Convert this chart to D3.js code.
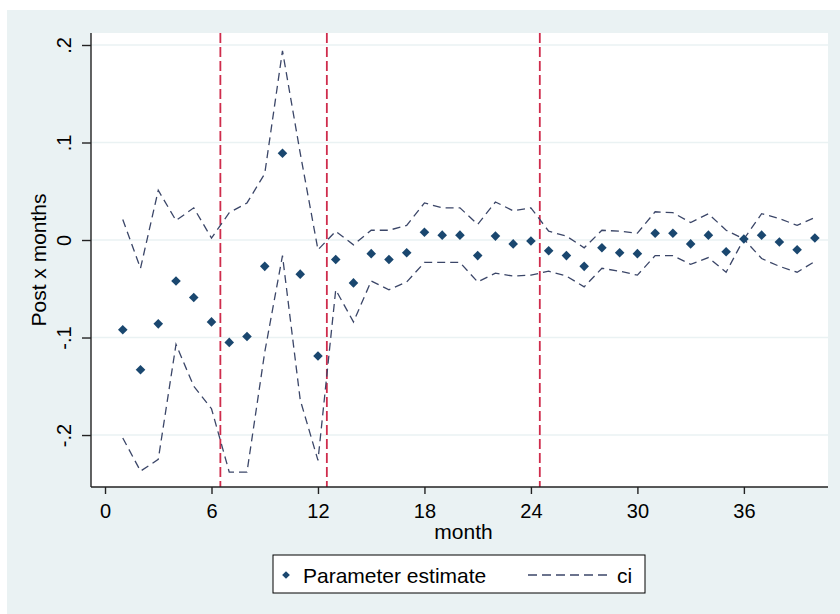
<!DOCTYPE html>
<html>
<head>
<meta charset="utf-8">
<script src="https://cdn.jsdelivr.net/npm/d3@7"></script>
<style>
  body { margin: 0; background: #fff; }
  text { font-family: "Liberation Sans", Arial, sans-serif; fill: #000; }
</style>
</head>
<body>
<div id="chart-area"></div>
<script>
// values
var months = [1,2,3,4,5,6,7,8,9,10,11,12,13,14,15,16,17,18,19,20,
              21,22,23,24,25,26,27,28,29,30,31,32,33,34,35,36,37,38,39,40];

var estimate = [-0.092,-0.133,-0.086,-0.042,-0.059,-0.084,-0.105,-0.099,-0.027,0.089,
                -0.035,-0.119,-0.020,-0.044,-0.014,-0.020,-0.013,0.008,0.005,0.005,
                -0.016,0.004,-0.004,-0.001,-0.011,-0.016,-0.027,-0.008,-0.013,-0.014,
                0.007,0.007,-0.004,0.005,-0.012,0.001,0.005,-0.002,-0.010,0.002];

var ciUpper = [0.021,-0.029,0.051,0.020,0.033,0.002,0.028,0.038,0.068,0.194,
               0.089,-0.010,0.009,-0.005,0.010,0.010,0.015,0.038,0.033,0.033,
               0.016,0.039,0.030,0.033,0.009,0.004,-0.008,0.010,0.009,0.007,
               0.029,0.028,0.018,0.027,0.010,0.001,0.027,0.022,0.015,0.023];

var ciLower = [-0.203,-0.237,-0.225,-0.107,-0.150,-0.173,-0.238,-0.238,-0.115,-0.016,
               -0.164,-0.226,-0.051,-0.084,-0.042,-0.051,-0.043,-0.023,-0.023,-0.023,
               -0.043,-0.034,-0.037,-0.036,-0.032,-0.037,-0.048,-0.029,-0.032,-0.036,
               -0.016,-0.016,-0.025,-0.018,-0.033,0.001,-0.019,-0.027,-0.033,-0.022];

var eventLines = [6.5, 12.5, 24.5];

var xTicks = [0, 6, 12, 18, 24, 30, 36];
var yTicks = [-0.2, -0.1, 0, 0.1, 0.2];
var yTickLabels = ["-.2", "-.1", "0", ".1", ".2"];

var W = 840, H = 614;
var plot = { left: 91, right: 828, top: 33, bottom: 487 };

var svg = d3.select("#chart-area")
    .append("svg")
        .attr("width", W)
        .attr("height", H);

// graph region + plot region
svg.append("rect")
    .attr("x", 7).attr("y", 10)
    .attr("width", W - 7).attr("height", H - 10)
    .attr("fill", "#eaf2f3");

svg.append("rect")
    .attr("x", plot.left).attr("y", plot.top)
    .attr("width", plot.right - plot.left)
    .attr("height", plot.bottom - plot.top)
    .attr("fill", "#fff");

var x = d3.scaleLinear()
    .domain([-0.79, 40.74])
    .range([plot.left, plot.right]);

var y = d3.scaleLinear()
    .domain([-0.2533, 0.2123])
    .range([plot.bottom, plot.top]);

// grid
svg.append("g")
    .selectAll("line")
    .data(yTicks)
    .enter()
    .append("line")
        .attr("x1", plot.left).attr("x2", plot.right)
        .attr("y1", function(d){ return y(d); })
        .attr("y2", function(d){ return y(d); })
        .attr("stroke", "#eaf2f3")
        .attr("stroke-width", 1.5);

// event lines
svg.append("g")
    .selectAll("line")
    .data(eventLines)
    .enter()
    .append("line")
        .attr("x1", function(d){ return x(d); })
        .attr("x2", function(d){ return x(d); })
        .attr("y1", plot.top).attr("y2", plot.bottom)
        .attr("stroke", "#cf2c4c")
        .attr("stroke-width", 1.8)
        .attr("stroke-dasharray", "10,4");

// confidence bands
var rows = months.map(function(m, i){
    return { m: m, est: estimate[i], hi: ciUpper[i], lo: ciLower[i] };
});

function ciLine(key) {
    return d3.line()
        .x(function(d){ return x(d.m); })
        .y(function(d){ return y(d[key]); });
}

["hi", "lo"].forEach(function(k){
    svg.append("path")
        .datum(rows)
        .attr("d", ciLine(k))
        .attr("fill", "none")
        .attr("stroke", "#3b4668")
        .attr("stroke-width", 1.3)
        .attr("stroke-dasharray", "8,5");
});

// point estimates
var diamond = d3.symbol().type(d3.symbolSquare).size(46);

svg.append("g")
    .selectAll("path")
    .data(rows)
    .enter()
    .append("path")
        .attr("d", diamond)
        .attr("transform", function(d){
            return "translate(" + x(d.m) + "," + y(d.est) + ") rotate(45)";
        })
        .attr("fill", "#1a476f");

// axes
var xAxis = svg.append("g")
    .attr("transform", "translate(0," + plot.bottom + ")")
    .call(d3.axisBottom(x).tickValues(xTicks).tickSize(7).tickPadding(10));

var yAxis = svg.append("g")
    .attr("transform", "translate(" + plot.left + ",0)")
    .call(d3.axisLeft(y).tickValues(yTicks).tickSize(9)
        .tickFormat(function(d, i){ return yTickLabels[i]; }));

[xAxis, yAxis].forEach(function(a){
    a.select(".domain").attr("stroke", "#222").attr("stroke-width", 1.4);
    a.selectAll(".tick line").attr("stroke", "#222").attr("stroke-width", 1.4);
    a.selectAll("text").style("font-size", "20px").attr("fill", "#000");
});
xAxis.select(".domain").attr("d", "M" + plot.left + ",0H" + plot.right);
yAxis.select(".domain").attr("d", "M0," + plot.top + "V" + plot.bottom);

yAxis.selectAll(".tick text")
    .attr("x", null).attr("dy", null)
    .attr("text-anchor", "middle")
    .attr("transform", "translate(-20,0) rotate(-90)");

// titles
svg.append("text")
    .attr("x", x(20.2)).attr("y", 539)
    .attr("text-anchor", "middle")
    .style("font-size", "21px")
    .text("month");

svg.append("text")
    .attr("transform", "translate(46,260) rotate(-90)")
    .attr("text-anchor", "middle")
    .style("font-size", "21px")
    .text("Post x months");

// legend
var lg = svg.append("g");
lg.append("rect")
    .attr("x", 273).attr("y", 555)
    .attr("width", 372).attr("height", 38)
    .attr("fill", "#fff")
    .attr("stroke", "#000")
    .attr("stroke-width", 1);
lg.append("path")
    .attr("d", d3.symbol().type(d3.symbolSquare).size(30))
    .attr("transform", "translate(286,575) rotate(45)")
    .attr("fill", "#1a476f");
lg.append("text")
    .attr("x", 303).attr("y", 583)
    .style("font-size", "21px")
    .text("Parameter estimate");
lg.append("line")
    .attr("x1", 528).attr("x2", 609)
    .attr("y1", 575).attr("y2", 575)
    .attr("stroke", "#3b4668")
    .attr("stroke-width", 1.3)
    .attr("stroke-dasharray", "9,5");
lg.append("text")
    .attr("x", 617).attr("y", 583)
    .style("font-size", "21px")
    .text("ci");
</script>
</body>
</html>
